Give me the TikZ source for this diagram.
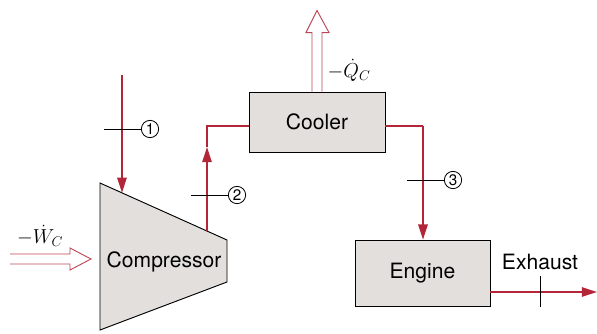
\documentclass[tikz,border=0pt]{standalone}
\usepackage{fontspec}
\setmainfont{TeX Gyre Heros}
\usetikzlibrary{arrows.meta,calc}
\definecolor{flow}{RGB}{178,38,56}
\definecolor{boxgray}{RGB}{226,223,221}
\tikzset{
  unit/.style={draw, fill=boxgray, line width=.8pt, font=\fontsize{18}{20}\selectfont},
  stream/.style={flow, line width=1.5pt},
  tip/.style={-{Triangle[length=13pt,width=8pt]}},
  state/.style={draw, circle, line width=.7pt, inner sep=0pt, minimum size=.52cm, font=\fontsize{13}{13}\selectfont},
  hollow/.style={flow!85, line width=.8pt, fill=white, line join=miter}
}
\begin{document}
\begin{tikzpicture}[x=.03cm, y=-.03cm]
  \useasboundingbox (0,0) rectangle (597,333);
  % compressor
  \coordinate (ctl) at (100,183);
  \coordinate (ctr) at (227,240);
  \draw[fill=boxgray, line width=.8pt] (ctl)--(ctr)--(227,282)--(100,330)--cycle;
  \node[font=\fontsize{18}{20}\selectfont] (comp) at (164,262) {Compressor};
  % cooler and engine
  \node[unit, minimum width=4.08cm, minimum height=1.8cm] (cooler) at (317,122) {Cooler};
  \node[unit, minimum width=4.05cm, minimum height=2cm] (engine) at (422.5,273.5) {Engine};
  % state 1
  \coordinate (in1) at (122,75);
  \coordinate (s1) at ($(ctl)!.173!(ctr)$);
  \draw[stream, tip] (in1) -- (s1);
  \node[state] (n1) at (150,129) {1};
  \draw[line width=.8pt] (n1.west) -- ++(-37,0);
  % state 2
  \coordinate (s2) at ($(ctl)!.843!(ctr)$);
  \coordinate (m2) at (207,147);
  \coordinate (k2) at (207,126);
  \draw[stream, tip] (s2) -- (m2);
  \draw[stream] (m2) -- (k2) -- (k2 -| cooler.west);
  \node[state] (n2) at (237,195) {2};
  \draw[line width=.8pt] (n2.west) -- ++(-37,0);
  % state 3
  \coordinate (k3) at (423,126);
  \draw[stream] (k3 -| cooler.east) -- (k3);
  \draw[stream, tip] (k3) -- (k3 |- engine.north);
  \node[state] (n3) at (453,180) {3};
  \draw[line width=.8pt] (n3.west) -- ++(-37,0);
  % exhaust
  \coordinate (ex) at (597,292);
  \draw[stream, tip] (engine.east |- ex) -- (ex);
  \path (engine.east |- ex) -- (ex) coordinate[pos=.47] (ext);
  \draw[line width=.8pt] (ext) ++(0,-16) -- ++(0,31);
  \node[font=\fontsize{18}{20}\selectfont] (exlab) at (540,262) {Exhaust};
  % heat and work
  \draw[hollow] (cooler.north) ++(-5,0) -- ++(0,-59) -- ++(-6,0) -- ++(11,-22)
    -- ++(12,22) -- ++(-7,0) -- ++(0,59);
  \node[font=\fontsize{18}{20}\selectfont] (qlab) at (349,70) {$-\dot{Q}_C$};
  \draw[hollow] (10,254) -- (70,254) -- (70,248) -- (91,259) -- (70,270) -- (70,264) -- (10,264);
  \node[font=\fontsize{18}{20}\selectfont] (wlab) at (40,236) {$-\dot{W}_C$};
\end{tikzpicture}
\end{document}
